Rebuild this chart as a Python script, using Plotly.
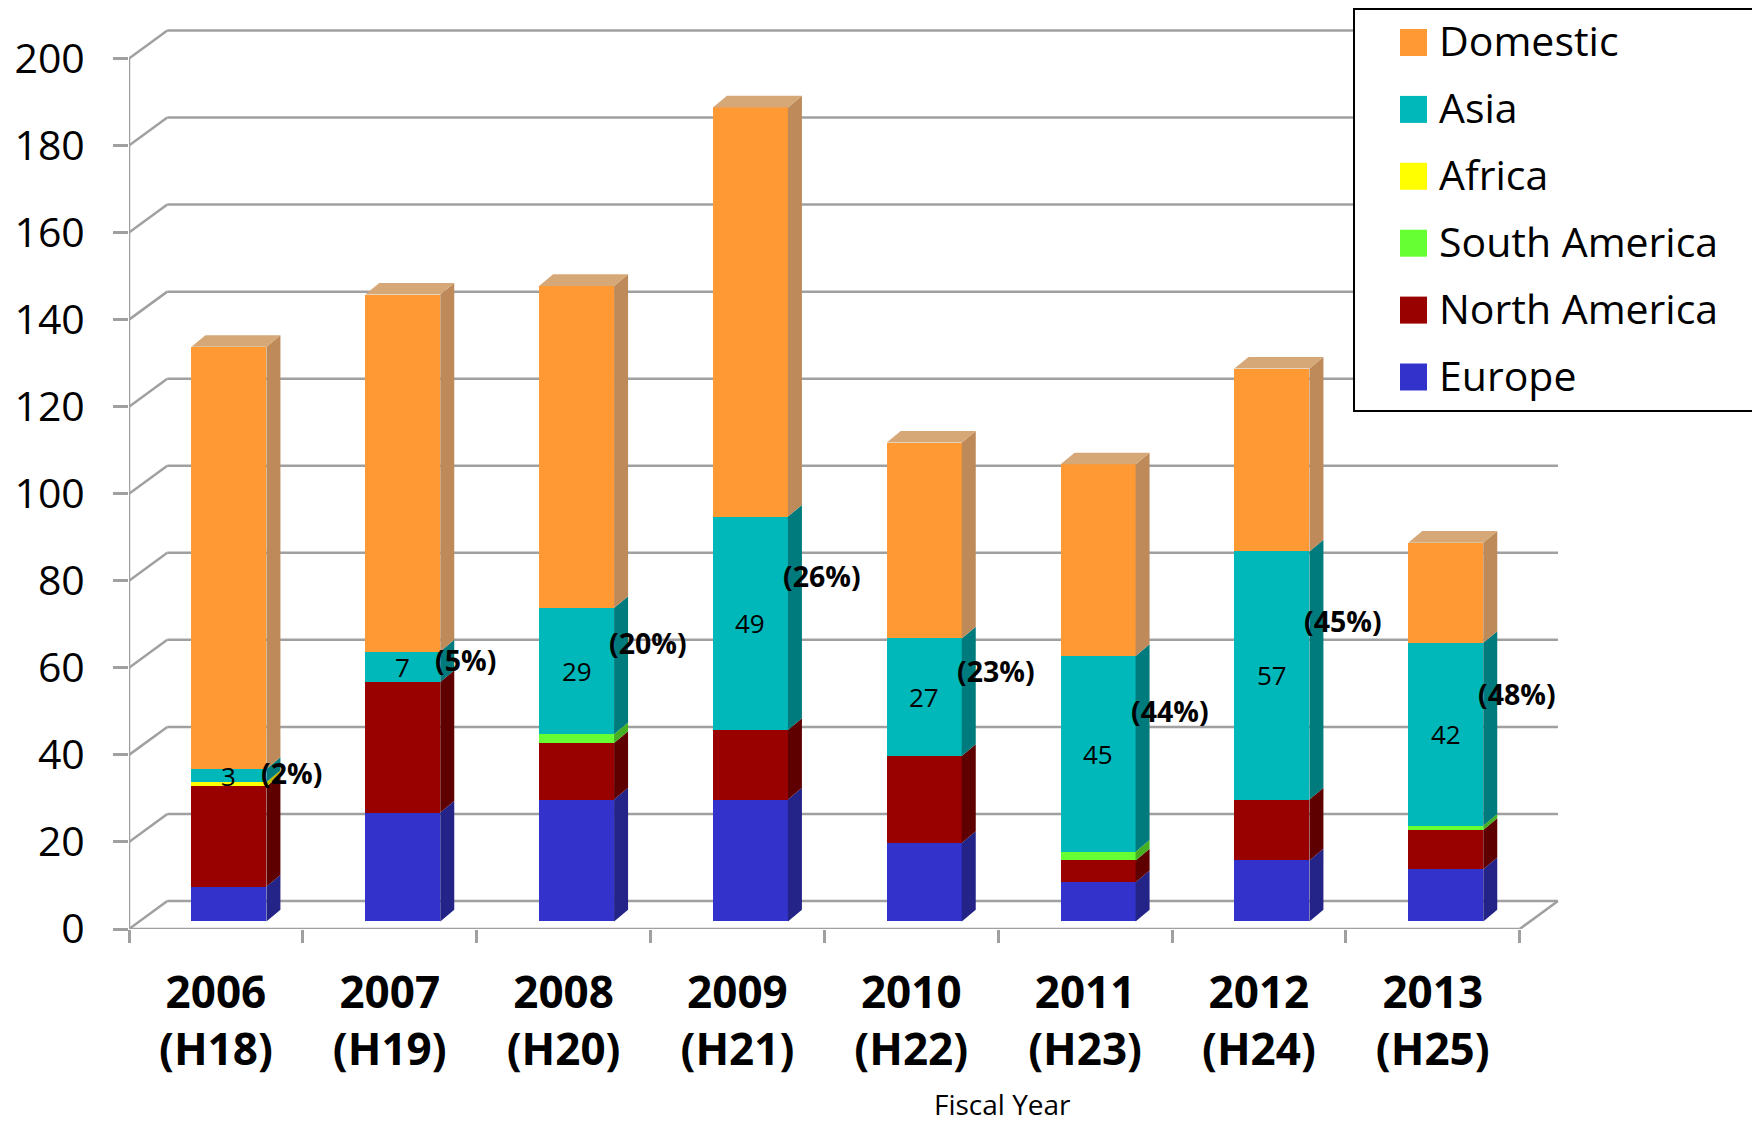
import plotly.graph_objects as go

# ---------------- data ----------------
categories = ["2006<br>(H18)", "2007<br>(H19)", "2008<br>(H20)", "2009<br>(H21)",
              "2010<br>(H22)", "2011<br>(H23)", "2012<br>(H24)", "2013<br>(H25)"]
europe = [8, 25, 28, 28, 18, 9, 14, 12]
north_america = [23, 30, 13, 16, 20, 5, 14, 9]
south_america = [0, 0, 2, 0, 0, 2, 0, 1]
africa = [1, 0, 0, 0, 0, 0, 0, 0]
asia = [3, 7, 29, 49, 27, 45, 57, 42]
domestic = [97, 82, 74, 94, 45, 44, 42, 23]
asia_share_text = ["(2%)", "(5%)", "(20%)", "(26%)", "(23%)", "(44%)", "(45%)", "(48%)"]
y_ticks = [0, 20, 40, 60, 80, 100, 120, 140, 160, 180, 200]

# series from bottom of the stack to top
series = [
    ("Europe", europe, "#3333CC", "#232388"),
    ("North America", north_america, "#990000", "#5E0000"),
    ("South America", south_america, "#66FF33", "#44B022"),
    ("Africa", africa, "#FFFF00", "#BDBD00"),
    ("Asia", asia, "#00B7BA", "#007B7D"),
    ("Domestic", domestic, "#FF9933", "#BF8A5A"),
]
top_face_color = "#D6A878"

# ---------------- geometry (pixels -> data units) ----------------
W, H = 1752, 1124
ML, MR, MT, MB = 129, 192, 28, 195
XR = [-0.5, 7.732]
YR = [0, 207]
pw, ph = W - ML - MR, H - MT - MB
kx = pw / (XR[1] - XR[0])
ky = ph / (YR[1] - YR[0])
wall_dx, wall_dy = 38.3 / kx, 28.0 / ky      # depth of the 3D walls
bar_sx, bar_sy = 13.0 / kx, 7.6 / ky          # bars sit a bit behind the front plane
bar_w = 75.0 / kx
face_dx, face_dy = 14.0 / kx, 11.7 / ky       # bar depth
n = len(categories)
GRID = "#A0A0A0"


def px_to_paper(xp, yp):
    return (xp - ML) / pw, (H - MB - yp) / ph


fig = go.Figure()

# stacked bars (front faces)
for name, vals, col, _ in series:
    fig.add_trace(go.Bar(
        x=categories, y=vals, name=name, marker=dict(color=col, line=dict(width=0)),
        width=bar_w, offset=bar_sx - bar_w / 2, yaxis="y2", showlegend=False,
        hovertemplate=name + ": %{y}<extra></extra>",
    ))

shapes = []
# 3D walls / grid lines
for v in y_ticks:
    shapes.append(dict(type="line", xref="x", yref="y", x0=-0.5, y0=v, x1=-0.5 + wall_dx, y1=v + wall_dy,
                       line=dict(color=GRID, width=2.5), layer="below"))
    shapes.append(dict(type="line", xref="x", yref="y", x0=-0.5 + wall_dx, y0=v + wall_dy,
                       x1=n - 0.5 + wall_dx, y1=v + wall_dy, line=dict(color=GRID, width=2.5), layer="below"))
shapes.append(dict(type="line", xref="x", yref="y", x0=-0.5, y0=0, x1=n - 0.5, y1=0,
                   line=dict(color=GRID, width=2.5), layer="below"))
shapes.append(dict(type="line", xref="x", yref="y", x0=n - 0.5, y0=0, x1=n - 0.5 + wall_dx, y1=wall_dy,
                   line=dict(color=GRID, width=2.5), layer="below"))
shapes.append(dict(type="line", xref="x", yref="y", x0=-0.5, y0=0, x1=-0.5, y1=y_ticks[-1],
                   line=dict(color=GRID, width=2.5), layer="below"))

# 3D side faces and top faces of bars
for i in range(n):
    xl = i + bar_sx - bar_w / 2
    xr = i + bar_sx + bar_w / 2
    base = 0
    for name, vals, col, side in series:
        v = vals[i]
        if v <= 0:
            continue
        top = base + v
        path = (f"M{xr},{base} L{xr + face_dx},{base + face_dy} "
                f"L{xr + face_dx},{top + face_dy} L{xr},{top} Z")
        shapes.append(dict(type="path", xref="x", yref="y2", path=path,
                           fillcolor=side, line=dict(width=0), layer="above"))
        base = top
    path = (f"M{xl},{base} L{xl + face_dx},{base + face_dy} "
            f"L{xr + face_dx},{base + face_dy} L{xr},{base} Z")
    shapes.append(dict(type="path", xref="x", yref="y2", path=path,
                       fillcolor=top_face_color, line=dict(width=0), layer="above"))

annotations = []
# Asia value labels and share labels
for i in range(n):
    asia_base = europe[i] + north_america[i] + south_america[i] + africa[i]
    annotations.append(dict(x=i + bar_sx, y=asia_base + asia[i] / 2, xref="x", yref="y2",
                            text=str(asia[i]), showarrow=False,
                            font=dict(family="Open Sans", size=26, color="black")))
    annotations.append(dict(x=i + bar_sx + bar_w / 2, y=asia_base + 0.72 * asia[i], xref="x", yref="y2",
                            text="<b>" + asia_share_text[i] + "</b>", showarrow=False, xanchor="left",
                            xshift=-7, font=dict(family="Open Sans", size=28.5, color="black")))

# axis title
tx, ty = px_to_paper(1002, 1104)
annotations.append(dict(x=tx, y=ty, xref="paper", yref="paper", text="Fiscal Year", showarrow=False,
                        xanchor="center", yanchor="middle",
                        font=dict(family="Open Sans", size=28, color="black")))

# manual legend (top = last series)
lx0, ly0 = px_to_paper(1354, 9)
lx1, ly1 = px_to_paper(1790, 411)
shapes.append(dict(type="rect", xref="paper", yref="paper", x0=lx0, y0=ly1, x1=lx1, y1=ly0,
                   line=dict(color="black", width=2), fillcolor="white", layer="above"))
for k, (name, vals, col, side) in enumerate(reversed(series)):
    cy = 42.5 + 66.9 * k
    sx0, sy0 = px_to_paper(1400, cy - 13.5)
    sx1, sy1 = px_to_paper(1427, cy + 13.5)
    shapes.append(dict(type="rect", xref="paper", yref="paper", x0=sx0, y0=sy1, x1=sx1, y1=sy0,
                       fillcolor=col, line=dict(width=0), layer="above"))
    ax_, ay_ = px_to_paper(1437, cy)
    annotations.append(dict(x=ax_, y=ay_, xref="paper", yref="paper", text=name, showarrow=False,
                            xanchor="left", yanchor="middle", yshift=2,
                            font=dict(family="Open Sans", size=41, color="black")))

fig.update_layout(
    width=W, height=H, autosize=False,
    margin=dict(l=ML, r=MR, t=MT, b=MB, pad=0),
    paper_bgcolor="white", plot_bgcolor="white",
    barmode="stack", bargap=0,
    showlegend=False,
    font=dict(family="Open Sans", color="black"),
    xaxis=dict(type="category", categoryorder="array", categoryarray=categories,
               range=XR, tickson="boundaries", ticks="outside", ticklen=13, tickwidth=2.5,
               tickcolor=GRID, showgrid=False, showline=False, zeroline=False,
               tickfont=dict(family="Open Sans", size=44, color="black", weight="bold"),
               ticklabelstandoff=34, fixedrange=True),
    yaxis=dict(range=YR, tickvals=y_ticks, ticks="outside", ticklen=15, tickwidth=2.5,
               tickcolor=GRID, showgrid=False, showline=False, zeroline=False,
               tickfont=dict(family="Open Sans", size=41, color="black"),
               ticklabelstandoff=20, fixedrange=True),
    yaxis2=dict(range=[YR[0] - bar_sy, YR[1] - bar_sy], overlaying="y", visible=False,
                fixedrange=True),
    shapes=shapes,
    annotations=annotations,
)

fig.write_html("out.html", config={"displayModeBar": False},
               post_script="document.body.style.margin='0';")
